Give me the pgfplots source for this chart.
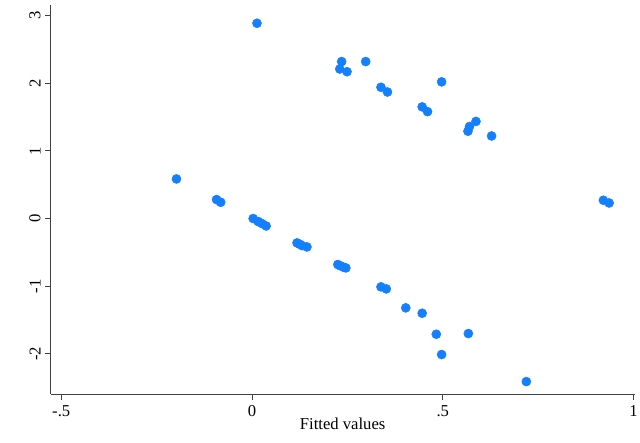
\documentclass[border=0pt]{standalone}
\usepackage{pgfplots}
\pgfplotsset{compat=1.18}
\usepackage{fontspec}
\setmainfont{Liberation Serif}
\definecolor{stblue}{RGB}{20,128,255}
\begin{document}
\begin{tikzpicture}
\path[use as bounding box] (-38pt,-36pt) rectangle (443pt,296.25pt);
\begin{axis}[
  at={(0,0)}, anchor=south west,
  scale only axis,
  width=439pt, height=292.5pt,
  xmin=-0.528, xmax=1.003,
  ymin=-2.596, ymax=3.156,
  axis x line*=bottom, axis y line*=left,
  axis line style={black!75, line width=0.6pt},
  xtick={-0.5,0,0.5,1},
  xticklabels={-.5,0,.5,1},
  ytick={-2,-1,0,1,2,3},
  tick style={black!75, line width=0.6pt},
  tick align=outside,
  major tick length=4pt,
  /pgf/number format/assume math mode=true,
  ticklabel style={font=\fontsize{12.5}{14}\selectfont},
  yticklabel style={rotate=90, anchor=south},
  xticklabel style={yshift=-1pt},
  xlabel={Fitted values},
  xlabel style={font=\fontsize{12.5}{14}\selectfont, yshift=6pt},
  clip=false,
]
\addplot[only marks, mark=*, mark size=3.4pt, color=stblue, mark options={draw=stblue, fill=stblue}] table {
x y
0.013 2.886
0.235 2.32
0.230 2.21
0.249 2.17
0.298 2.32
0.338 1.94
0.355 1.87
0.497 2.02
0.446 1.65
0.460 1.58
0.587 1.435
0.570 1.36
0.566 1.29
0.628 1.22
0.921 0.27
0.936 0.23
-0.198 0.585
-0.093 0.28
-0.082 0.24
0.003 0.0
0.016 -0.044
0.026 -0.074
0.037 -0.11
0.118 -0.36
0.125 -0.38
0.131 -0.40
0.144 -0.42
0.225 -0.68
0.232 -0.70
0.240 -0.72
0.246 -0.73
0.338 -1.01
0.352 -1.04
0.403 -1.32
0.446 -1.40
0.483 -1.71
0.567 -1.70
0.497 -2.01
0.719 -2.41
};
\end{axis}
\end{tikzpicture}
\end{document}
